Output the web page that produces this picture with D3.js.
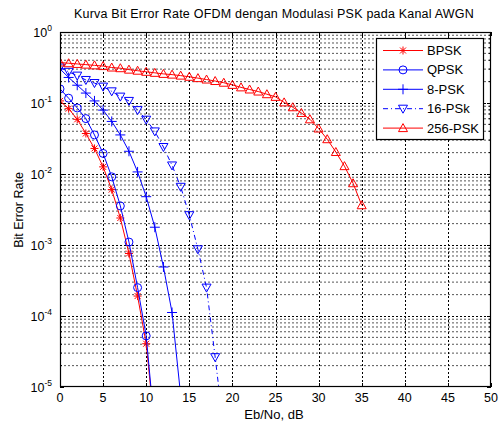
<!DOCTYPE html>
<html><head><meta charset="utf-8">
<script src="https://cdn.jsdelivr.net/npm/d3@7"></script>
<style>
body{margin:0;background:#fff;}
svg{display:block;font-family:"Liberation Sans",Arial,sans-serif;}
</style></head>
<body><svg id="c" width="499" height="423"></svg>
<script>
const titleText = "Kurva Bit Error Rate OFDM dengan Modulasi PSK pada Kanal AWGN";
const xLabel = "Eb/No, dB";
const yLabel = "Bit Error Rate";
const xTicks = [0,5,10,15,20,25,30,35,40,45,50];
const yExps = [0,-1,-2,-3,-4,-5];

const bpskX = [0,1,2,3,4,5,6,7,8,9,10,11];
const bpskY = [0.107,0.0832,0.0589,0.0372,0.0229,0.0126,0.00603,0.0024,7.59e-4,1.91e-4,4.07e-5,2.5e-6];
const qpskX = [0,1,2,3,4,5,6,7,8,9,10,11];
const qpskY = [0.158,0.117,0.0851,0.0603,0.0355,0.0195,0.00912,0.00355,0.0011,2.51e-4,5.25e-5,2.5e-6];
const psk8X = [0,1,2,3,4,5,6,7,8,9,10,11,12,13,14];
const psk8Y = [0.302,0.229,0.178,0.138,0.107,0.0794,0.055,0.0355,0.0209,0.0107,0.00479,0.00178,4.9e-4,1.12e-4,7.6e-6];
const psk16X = [0,1,2,3,4,5,6,7,8,9,10,11,12,13,14,15,16,17,18,19];
const psk16Y = [0.316,0.275,0.243,0.211,0.191,0.17,0.146,0.123,0.107,0.0794,0.0582,0.0398,0.024,0.0132,0.0066,0.00263,8.7e-4,2.51e-4,2.63e-5,2.5e-6];
const psk256X = [0,1,2,3,4,5,6,7,8,9,10,11,12,13,14,15,16,17,18,19,20,21,22,23,24,25,26,27,28,29,30,31,32,33,34,35];
const psk256Y = [0.372,0.363,0.355,0.347,0.339,0.331,0.316,0.309,0.295,0.285,0.275,0.266,0.257,0.251,0.243,0.234,0.224,0.214,0.204,0.193,0.18,0.166,0.155,0.145,0.133,0.122,0.102,0.0871,0.0724,0.0589,0.0437,0.0309,0.0204,0.0129,0.00741,0.00363];

const seriesNames = ["BPSK","QPSK","8-PSK","16-PSk","256-PSK"];
const seriesX = [bpskX,qpskX,psk8X,psk16X,psk256X];
const seriesY = [bpskY,qpskY,psk8Y,psk16Y,psk256Y];
const seriesColor = ["#ff0000","#0000ff","#0000ff","#0000ff","#ff0000"];
const seriesMarker = ["star","circle","plus","tridown","triup"];
const seriesDash = [null,null,null,"5,3,1,3",null];

const L=60,R=491,T=32,B=387;
const svg = d3.select("#c");
const x = d3.scaleLinear().domain([0,50]).range([L,R]);
const y = d3.scaleLog().domain([1e-5,1]).range([B,T]);

svg.append("defs").append("clipPath").attr("id","clip")
  .append("rect").attr("x",L).attr("y",T).attr("width",R-L).attr("height",B-T);

// grid
const g = svg.append("g");
const minor = [];
for (let e=-5;e<0;e++) for (let m=2;m<=9;m++) minor.push(m*Math.pow(10,e));
g.selectAll(".ym").data(minor).enter().append("line")
  .attr("x1",L).attr("x2",R).attr("y1",d=>y(d)).attr("y2",d=>y(d))
  .attr("stroke","#555").attr("stroke-width",1).attr("stroke-dasharray","2,2");
g.selectAll(".yM").data(yExps.slice(1,5)).enter().append("line")
  .attr("x1",L).attr("x2",R).attr("y1",d=>Math.round(y(Math.pow(10,d)))+0.5).attr("y2",d=>Math.round(y(Math.pow(10,d)))+0.5)
  .attr("stroke","#000").attr("stroke-width",1).attr("stroke-dasharray","2,2");
g.selectAll(".xg").data(xTicks.slice(1,-1)).enter().append("line")
  .attr("y1",T).attr("y2",B).attr("x1",d=>Math.round(x(d))+0.5).attr("x2",d=>Math.round(x(d))+0.5)
  .attr("stroke","#000").attr("stroke-width",1).attr("stroke-dasharray","2,2");

// ticks (inward)
xTicks.forEach(t=>{
  const xx=Math.round(x(t))+0.5;
  g.append("line").attr("x1",xx).attr("x2",xx).attr("y1",B).attr("y2",B-4).attr("stroke","#000");
  g.append("line").attr("x1",xx).attr("x2",xx).attr("y1",T).attr("y2",T+4).attr("stroke","#000");
});
yExps.forEach(e=>{
  const yy=Math.round(y(Math.pow(10,e)))+0.5;
  g.append("line").attr("x1",L).attr("x2",L+4).attr("y1",yy).attr("y2",yy).attr("stroke","#000");
  g.append("line").attr("x1",R).attr("x2",R-4).attr("y1",yy).attr("y2",yy).attr("stroke","#000");
});
minor.forEach(v=>{
  const yy=y(v);
  g.append("line").attr("x1",L).attr("x2",L+2).attr("y1",yy).attr("y2",yy).attr("stroke","#000");
  g.append("line").attr("x1",R).attr("x2",R-2).attr("y1",yy).attr("y2",yy).attr("stroke","#000");
});

// tick labels
xTicks.forEach(t=>{
  svg.append("text").attr("x",x(t)).attr("y",B+15).attr("text-anchor","middle")
    .attr("font-size",12.5).text(t);
});
yExps.forEach(e=>{
  const t = svg.append("text").attr("x",L-8).attr("y",y(Math.pow(10,e))+5).attr("text-anchor","end").attr("font-size",12.5);
  t.append("tspan").text("10");
  t.append("tspan").attr("dy",-6).attr("font-size",8.5).text(String(e));
});

// plot lines
const pg = svg.append("g").attr("clip-path","url(#clip)");
const line = d3.line().x(d=>x(d[0])).y(d=>y(d[1]));

function marker(sel,type,color){
  if(type==="star"){
    sel.append("path").attr("d","M-4,0H4M0,-4V4M-3,-3L3,3M-3,3L3,-3").attr("stroke",color).attr("fill","none");
  } else if(type==="circle"){
    sel.append("circle").attr("r",4).attr("stroke",color).attr("fill","none");
  } else if(type==="plus"){
    sel.append("path").attr("d","M-5,0H5M0,-5V5").attr("stroke",color).attr("fill","none");
  } else if(type==="tridown"){
    sel.append("path").attr("d","M-4.5,-3.5L4.5,-3.5L0,4.5Z").attr("stroke",color).attr("fill","none");
  } else if(type==="triup"){
    sel.append("path").attr("d","M-4.5,3.5L4.5,3.5L0,-4.5Z").attr("stroke",color).attr("fill","none");
  }
}

seriesNames.forEach((n,i)=>{
  const pts = seriesX[i].map((xv,j)=>[xv,seriesY[i][j]]);
  const p = pg.append("path").datum(pts).attr("d",line).attr("fill","none")
    .attr("stroke",seriesColor[i]).attr("stroke-width",1);
  if(seriesDash[i]) p.attr("stroke-dasharray",seriesDash[i]);
  pts.forEach(d=>{
    const m = pg.append("g").attr("transform",`translate(${x(d[0])},${y(d[1])})`);
    marker(m,seriesMarker[i],seriesColor[i]);
  });
});

// axes box
svg.append("rect").attr("x",L+0.5).attr("y",T+0.5).attr("width",R-L-1).attr("height",B-T-1)
  .attr("fill","none").attr("stroke","#000").attr("stroke-width",1.2);

// legend
const lg = svg.append("g");
lg.append("rect").attr("x",376.5).attr("y",38.5).attr("width",107).attr("height",101)
  .attr("fill","#fff").attr("stroke","#000").attr("stroke-width",1.2);
seriesNames.forEach((n,i)=>{
  const yy = 50.5 + i*19.4;
  const l = lg.append("line").attr("x1",383).attr("x2",423).attr("y1",yy).attr("y2",yy)
    .attr("stroke",seriesColor[i]).attr("stroke-width",1);
  if(seriesDash[i]) l.attr("stroke-dasharray",seriesDash[i]);
  const m = lg.append("g").attr("transform",`translate(403,${yy})`);
  marker(m,seriesMarker[i],seriesColor[i]);
  lg.append("text").attr("x",427).attr("y",yy+4.5).attr("font-size",13).text(n);
});

// title & labels
const tt = svg.append("text").attr("x",274).attr("y",18).attr("text-anchor","middle").attr("font-size",12.5).text(titleText);
const tw = tt.node().getComputedTextLength();
const target = 400;
tt.attr("letter-spacing", ((target - tw)/titleText.length).toFixed(3));
svg.append("text").attr("x",274).attr("y",419).attr("text-anchor","middle").attr("font-size",13).text(xLabel);
svg.append("text").attr("transform","translate(23,210) rotate(-90)").attr("text-anchor","middle").attr("font-size",12.5).text(yLabel);
</script></body></html>
